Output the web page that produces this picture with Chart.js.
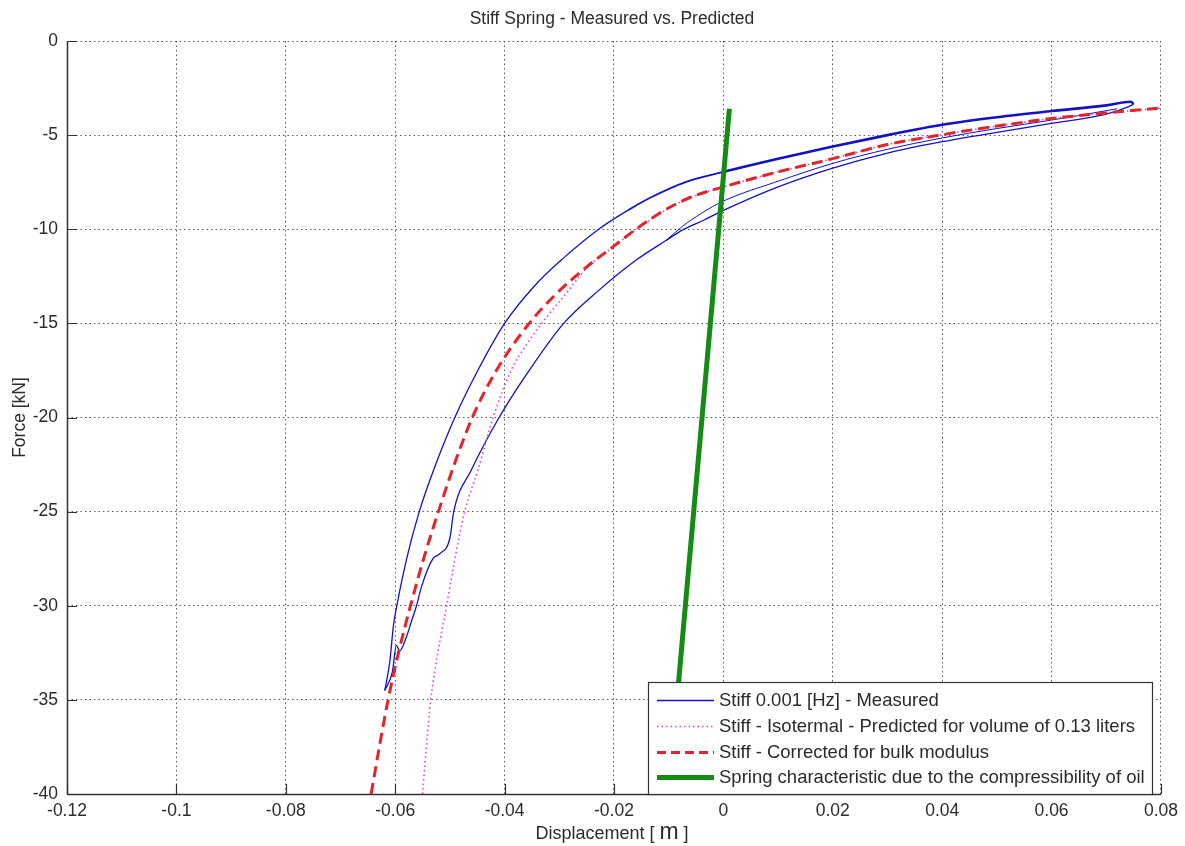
<!DOCTYPE html>
<html>
<head>
<meta charset="utf-8">
<title>Stiff Spring - Measured vs. Predicted</title>
<script src="https://cdn.jsdelivr.net/npm/chart.js@4.4.1/dist/chart.umd.min.js"></script>
<style>
  html, body { margin: 0; padding: 0; background: #ffffff; }
  #wrap { width: 1185px; height: 846px; position: relative; }
  canvas { display: block; }
</style>
</head>
<body>
<div id="wrap"><canvas id="chart" width="1185" height="846"></canvas></div>
<script>
// Axis ticks
const xTickValues = [-0.12, -0.1, -0.08, -0.06, -0.04, -0.02, 0, 0.02, 0.04, 0.06, 0.08];
const xTickLabels = ['-0.12', '-0.1', '-0.08', '-0.06', '-0.04', '-0.02', '0', '0.02', '0.04', '0.06', '0.08'];
const yTickValues = [0, -5, -10, -15, -20, -25, -30, -35, -40];
const yTickLabels = ['0', '-5', '-10', '-15', '-20', '-25', '-30', '-35', '-40'];

// Measured 0.001 Hz loop: loading branch (upper), displacement [m] / force [kN]
const measuredUpX = [-0.0619, -0.0610, -0.0603, -0.0597, -0.0579, -0.0556, -0.0526, -0.0491, -0.0449, -0.0400, -0.0345,
  -0.0295, -0.0228, -0.0175, -0.0132, -0.0068, 0.0000, 0.0100, 0.0200, 0.0300, 0.0400, 0.0500, 0.0600, 0.0700, 0.0745, 0.0750];
const measuredUpY = [-34.5, -33.0, -31.0, -30.0, -27.5, -25.0, -22.5, -20.0, -17.5, -15.0, -13.0,
  -11.6, -10.0, -9.0, -8.3, -7.48, -6.95, -6.25, -5.6, -5.0, -4.45, -4.05, -3.72, -3.42, -3.23, -3.35];

// Measured return branch (lower)
const measuredDownX = [0.0750, 0.0740, 0.0700, 0.0600, 0.0500, 0.0400, 0.0300, 0.0200, 0.0100, 0.0000, -0.0036, -0.0075,
  -0.0105, -0.0160, -0.0230, -0.0292, -0.0355, -0.0410, -0.0461, -0.0493, -0.0500, -0.0519, -0.0531, -0.0552, -0.0561,
  -0.0570, -0.0580, -0.0592, -0.0598, -0.0605, -0.0619];
const measuredDownY = [-3.35, -3.5, -3.88, -4.38, -4.85, -5.35, -5.95, -6.75, -7.75, -9.0, -9.52, -10.05,
  -10.6, -11.65, -13.3, -15.0, -17.5, -20.0, -22.8, -25.0, -26.4, -27.25, -27.5, -29.0, -30.0,
  -30.8, -31.7, -32.4, -32.1, -33.5, -34.5];

// Measured second return pass (upper-right region)
const measuredDown2X = [0.0720, 0.0600, 0.0500, 0.0400, 0.0300, 0.0200, 0.0100, 0.0000, -0.0040, -0.0075, -0.0105];
const measuredDown2Y = [-3.6, -4.2, -4.65, -5.15, -5.75, -6.5, -7.45, -8.5, -9.15, -9.85, -10.6];

// Isothermal prediction, V = 0.13 l
const isothermX = [-0.0550, -0.0543, -0.0535, -0.0522, -0.0506, -0.0494, -0.0473, -0.0449, -0.0421, -0.0388, -0.0357,
  -0.0324, -0.0290, -0.0248, -0.0204, -0.0159, -0.0107, -0.0059, 0.0001, 0.0100, 0.0200, 0.0300, 0.0400, 0.0500,
  0.0600, 0.0700, 0.0800];
const isothermY = [-40.0, -37.5, -35.0, -32.5, -30.0, -28.0, -25.0, -22.8, -20.0, -17.5, -16.0,
  -14.7, -13.5, -12.0, -11.0, -10.0, -9.0, -8.3, -7.75, -6.95, -6.25, -5.5, -4.98, -4.52,
  -4.12, -3.82, -3.56];

// Prediction corrected for bulk modulus
const correctedX = [-0.0644, -0.0629, -0.0613, -0.0594, -0.0572, -0.0548, -0.0521, -0.0492, -0.0459, -0.0415, -0.0355,
  -0.0308, -0.0250, -0.0205, -0.0160, -0.0108, -0.0060, 0.0000, 0.0100, 0.0200, 0.0300, 0.0400, 0.0500, 0.0600,
  0.0700, 0.0800];
const correctedY = [-40.0, -37.5, -35.0, -32.5, -30.0, -27.5, -25.0, -22.5, -20.0, -17.5, -15.0,
  -13.5, -12.0, -11.0, -10.0, -9.0, -8.3, -7.75, -6.95, -6.25, -5.5, -4.98, -4.52, -4.12,
  -3.82, -3.56];

// Oil compressibility spring line
const springX = [0.0011, -0.0100];
const springY = [-3.6, -40.0];

const FONT = "'Liberation Sans', Arial, Helvetica, sans-serif";
const TEXT = '#2b2b2b';

function pts(xs, ys) { return xs.map((x, i) => ({ x: x, y: ys[i] })); }

const BLUE = '#1212c4';
const PINK = '#e040e0';
const RED = '#e3242b';
const GREEN = '#148c14';

// Measured trace gets heavier where the noisy cycles pile up
function measuredWidth(c) {
  const x = c.p0.parsed.x;
  if (x > -0.002) return 2.6;
  if (x > -0.022) return 1.8;
  return 1.3;
}

const datasets = [
  { label: 'Spring characteristic due to the compressibility of oil', data: pts(springX, springY),
    borderColor: GREEN, borderWidth: 5, legendDash: [] },
  { label: 'Stiff - Corrected for bulk modulus', data: pts(correctedX, correctedY),
    borderColor: RED, borderWidth: 3, borderDash: [11, 6], cubicInterpolationMode: 'monotone', legendDash: [9, 5] },
  { label: 'Stiff - Isotermal - Predicted for volume of 0.13 liters', data: pts(isothermX, isothermY),
    borderColor: PINK, borderWidth: 1.6, borderDash: [1.5, 3], cubicInterpolationMode: 'monotone', legendDash: [1.5, 3] },
  { label: 'Stiff 0.001 [Hz] - Measured', data: pts(measuredUpX, measuredUpY),
    borderColor: BLUE, borderWidth: 1.3, cubicInterpolationMode: 'monotone', legendDash: [],
    segment: { borderWidth: measuredWidth } },
  { label: '_measured_return', data: pts(measuredDownX, measuredDownY),
    borderColor: BLUE, borderWidth: 1.3, cubicInterpolationMode: 'monotone' },
  { label: '_measured_return_2', data: pts(measuredDown2X, measuredDown2Y),
    borderColor: BLUE, borderWidth: 1.0, cubicInterpolationMode: 'monotone' }
];
datasets.forEach(d => { d.showLine = true; d.pointRadius = 0; d.fill = false; });

// Legend entries, top to bottom
const legendOrder = [3, 2, 1, 0];

const frame = {
  id: 'frame',
  afterDraw(chart) {
    const ctx = chart.ctx;
    const a = chart.chartArea;
    const xs = chart.scales.x, ys = chart.scales.y;
    ctx.save();

    // Solid axes
    ctx.strokeStyle = '#333333';
    ctx.lineWidth = 1.5;
    ctx.setLineDash([]);
    ctx.beginPath();
    ctx.moveTo(a.left + 0.5, a.top);
    ctx.lineTo(a.left + 0.5, a.bottom + 0.5);
    ctx.lineTo(a.right, a.bottom + 0.5);
    ctx.stroke();

    // Inward tick marks
    ctx.lineWidth = 1.2;
    ctx.beginPath();
    yTickValues.forEach(v => {
      const p = Math.round(ys.getPixelForValue(v)) + 0.5;
      ctx.moveTo(a.left, p); ctx.lineTo(a.left + 10, p);
    });
    xTickValues.forEach(v => {
      const p = Math.round(xs.getPixelForValue(v)) + 0.5;
      ctx.moveTo(p, a.bottom); ctx.lineTo(p, a.bottom - 10);
    });
    ctx.stroke();

    // Title
    ctx.fillStyle = TEXT;
    ctx.textAlign = 'center';
    ctx.textBaseline = 'middle';
    ctx.font = '17.5px ' + FONT;
    const cx = (a.left + a.right) / 2;
    ctx.fillText('Stiff Spring - Measured vs. Predicted', cx - 2, 19);

    // X axis title with a larger unit letter
    const p1 = 'Displacement [ ', p2 = 'm', p3 = ' ]';
    ctx.font = '18px ' + FONT;
    const w1 = ctx.measureText(p1).width, w3 = ctx.measureText(p3).width;
    ctx.font = '23px ' + FONT;
    const w2 = ctx.measureText(p2).width;
    const tx = cx - 2 - (w1 + w2 + w3) / 2;
    const ty = 839;
    ctx.textAlign = 'left';
    ctx.textBaseline = 'alphabetic';
    ctx.font = '18px ' + FONT;
    ctx.fillText(p1, tx, ty);
    ctx.font = '23px ' + FONT;
    ctx.fillText(p2, tx + w1, ty);
    ctx.font = '18px ' + FONT;
    ctx.fillText(p3, tx + w1 + w2, ty);

    // Y axis title
    ctx.save();
    ctx.translate(20, (a.top + a.bottom) / 2);
    ctx.rotate(-Math.PI / 2);
    ctx.textAlign = 'center';
    ctx.textBaseline = 'middle';
    ctx.font = '17.5px ' + FONT;
    ctx.fillText('Force [kN]', 0, 0);
    ctx.restore();

    // Legend box
    const lx = 648, ly = 682, lw = 504, lh = 112;
    ctx.fillStyle = '#ffffff';
    ctx.fillRect(lx, ly, lw, lh);
    ctx.strokeStyle = '#333333';
    ctx.lineWidth = 1.2;
    ctx.strokeRect(lx + 0.5, ly + 0.5, lw, lh);
    const rowY = [700, 726, 752, 777];
    ctx.font = '18.5px ' + FONT;
    ctx.textAlign = 'left';
    ctx.textBaseline = 'middle';
    legendOrder.forEach((di, r) => {
      const d = chart.data.datasets[di];
      const y = rowY[r];
      ctx.strokeStyle = d.borderColor;
      ctx.lineWidth = d.borderWidth;
      ctx.setLineDash(d.legendDash || []);
      ctx.beginPath();
      ctx.moveTo(657, y + 0.5);
      ctx.lineTo(714, y + 0.5);
      ctx.stroke();
      ctx.setLineDash([]);
      ctx.fillStyle = TEXT;
      ctx.fillText(d.label, 719, y + 1);
    });
    ctx.restore();
  }
};

new Chart(document.getElementById('chart'), {
  type: 'scatter',
  data: { datasets: datasets },
  options: {
    responsive: false,
    animation: false,
    devicePixelRatio: 1,
    layout: { padding: { left: 0, top: 41, right: 23, bottom: 0 } },
    plugins: { legend: { display: false }, title: { display: false }, tooltip: { enabled: false } },
    scales: {
      x: {
        type: 'linear', min: -0.12, max: 0.08,
        afterFit(s) { s.height = 52; },
        afterBuildTicks(s) { s.ticks = xTickValues.map(v => ({ value: v })); },
        ticks: {
          autoSkip: false, maxRotation: 0, padding: 7, color: TEXT,
          font: { family: FONT, size: 17.5 },
          callback: (v, i) => xTickLabels[i]
        },
        grid: { color: 'rgba(60,60,60,0.85)', lineWidth: 1, drawTicks: false },
        border: { display: false, dash: [1.5, 3] }
      },
      y: {
        type: 'linear', min: -40, max: 0,
        afterFit(s) { s.width = 67; },
        afterBuildTicks(s) { s.ticks = yTickValues.slice().reverse().map(v => ({ value: v })); },
        ticks: {
          autoSkip: false, padding: 9, color: TEXT,
          font: { family: FONT, size: 17.5 },
          callback: (v, i, t) => yTickLabels[yTickValues.indexOf(t[i].value)]
        },
        grid: { color: 'rgba(60,60,60,0.85)', lineWidth: 1, drawTicks: false },
        border: { display: false, dash: [1.5, 3] }
      }
    }
  },
  plugins: [frame]
});
</script>
</body>
</html>
